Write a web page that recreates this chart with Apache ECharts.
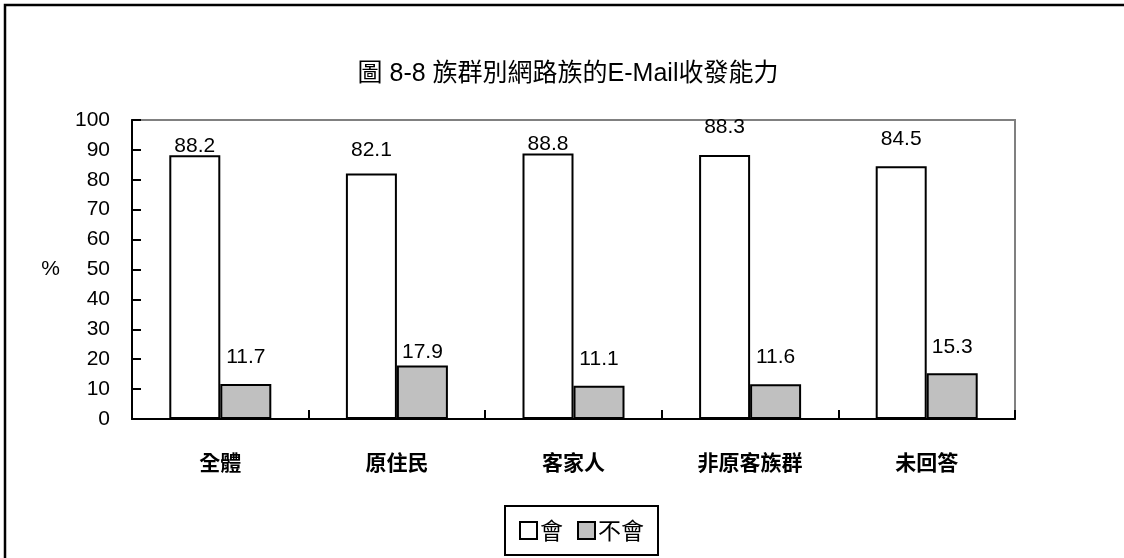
<!DOCTYPE html>
<html>
<head>
<meta charset="utf-8">
<script src="https://cdn.jsdelivr.net/npm/echarts@6/dist/echarts.min.js"></script>
<style>
  html, body { margin: 0; padding: 0; background: #fff; }
  #chart { width: 1124px; height: 558px; }
</style>
</head>
<body>
<div id="chart"></div>
<script>
const titleText = '圖 8-8 族群別網路族的E-Mail收發能力';
const categories = ['全體', '原住民', '客家人', '非原客族群', '未回答'];
const seriesNames = ['會', '不會'];
const canValues = [88.2, 82.1, 88.8, 88.3, 84.5];
const cannotValues = [11.7, 17.9, 11.1, 11.6, 15.3];
const yTicks = [0, 10, 20, 30, 40, 50, 60, 70, 80, 90, 100];

// label gaps (pixels between digits and bar top), styling only
const canLabelGap = [3, 17, 3, 22, 21];
const cannotLabelGap = [21, 7, 21, 21, 20];

const FONT = '"Liberation Sans", Arial, "Noto Sans CJK TC", sans-serif';
const CJK = '"Noto Sans CJK TC", "Liberation Sans", sans-serif';

function withLabels(values, gaps) {
  return values.map((v, i) => ({
    value: v,
    label: { offset: [0, -(gaps[i] - 9.5)] }
  }));
}

const chart = echarts.init(document.getElementById('chart'), null, { renderer: 'canvas' });

const option = {
  backgroundColor: '#ffffff',
  animation: false,
  textStyle: { fontFamily: FONT, color: '#000' },
  graphic: [
    {
      type: 'rect',
      shape: { x: 5, y: 5, width: 1300, height: 700 },
      style: { fill: 'none', stroke: '#000', lineWidth: 2.5 },
      silent: true
    },
    {
      type: 'text',
      x: 568,
      y: 74,
      style: {
        text: titleText,
        fontSize: 25,
        fontFamily: FONT,
        fill: '#000',
        align: 'center',
        verticalAlign: 'middle'
      }
    }
  ],
  legend: {
    data: seriesNames,
    left: 505,
    top: 506,
    orient: 'horizontal',
    itemWidth: 17,
    itemHeight: 17,
    itemGap: 14,
    padding: [13, 14],
    borderColor: '#000',
    borderWidth: 2,
    icon: 'rect',
    itemStyle: { borderColor: '#000', borderWidth: 2 },
    textStyle: { fontSize: 23, fontFamily: CJK, color: '#000', padding: [0, 0, 0, -2] }
  },
  grid: {
    left: 132,
    right: 109,
    top: 120,
    bottom: 139,
    show: true,
    borderColor: '#808080',
    borderWidth: 2,
    backgroundColor: 'transparent',
    containLabel: false
  },
  xAxis: {
    type: 'category',
    data: categories,
    axisLine: { show: true, lineStyle: { color: '#000', width: 2 } },
    axisTick: { show: true, inside: true, length: 9, lineStyle: { color: '#000', width: 2 } },
    axisLabel: { fontSize: 21, fontWeight: 'bold', fontFamily: CJK, color: '#000', margin: 33 },
    splitLine: { show: false }
  },
  yAxis: {
    type: 'value',
    min: yTicks[0],
    max: yTicks[yTicks.length - 1],
    interval: yTicks[1] - yTicks[0],
    name: '%',
    nameLocation: 'middle',
    nameRotate: 0,
    nameGap: 72,
    nameTextStyle: { fontSize: 21, fontFamily: FONT, color: '#000' },
    axisLine: { show: true, lineStyle: { color: '#000', width: 2 } },
    axisTick: { show: true, inside: true, length: 9, lineStyle: { color: '#000', width: 2 } },
    axisLabel: { fontSize: 21, fontFamily: FONT, color: '#000', margin: 22 },
    splitLine: { show: false }
  },
  series: [
    {
      name: seriesNames[0],
      type: 'bar',
      data: withLabels(canValues, canLabelGap),
      barWidth: 51,
      barGap: '0%',
      itemStyle: { color: '#ffffff', borderColor: '#000', borderWidth: 2 },
      label: { show: true, position: 'top', distance: 5, fontSize: 21, fontFamily: FONT, color: '#000' }
    },
    {
      name: seriesNames[1],
      type: 'bar',
      data: withLabels(cannotValues, cannotLabelGap),
      barWidth: 51,
      barGap: '0%',
      itemStyle: { color: '#c0c0c0', borderColor: '#000', borderWidth: 2 },
      label: { show: true, position: 'top', distance: 5, fontSize: 21, fontFamily: FONT, color: '#000' }
    }
  ]
};

chart.setOption(option);
</script>
</body>
</html>
